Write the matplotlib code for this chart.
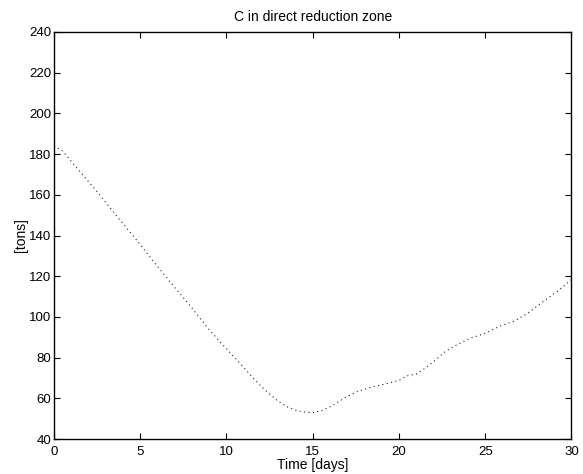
import matplotlib
matplotlib.use("Agg")
import matplotlib.pyplot as plt
from matplotlib.ticker import MultipleLocator

days = [0.0, 0.5, 1.35, 2.5, 3.67, 4.8, 5.86, 6.97, 7.94, 8.9, 9.62, 10.78,
        11.65, 12.23, 12.9, 13.5, 14.1, 14.6, 15.0, 15.56, 16.1, 16.87,
        17.6, 18.5, 19.4, 20.0, 20.45, 21.0, 21.5, 22.0, 22.67, 23.34,
        24.12, 25.0, 25.86, 26.73, 27.5, 28.27, 29.14, 30.0]
carbon = [184.0, 181.5, 173.0, 161.5, 149.2, 137.7, 126.3, 114.8, 105.0, 94.7,
          87.8, 77.2, 69.0, 64.1, 59.2, 55.9, 53.9, 53.2, 52.9, 54.1, 56.2,
          60.3, 63.4, 65.7, 67.4, 68.8, 71.0, 71.9, 74.7, 78.0, 82.9, 86.2,
          89.5, 91.9, 95.5, 98.1, 102.0, 107.0, 112.3, 118.3]

plt.rcParams['font.family'] = ['Liberation Sans', 'DejaVu Sans']
plt.rcParams['font.size'] = 10

fig = plt.figure(figsize=(5.83, 4.74), dpi=100)
ax = fig.add_axes([0.0926, 0.0738, 0.8876, 0.8587])
ax.plot(days, carbon, linestyle=(0, (1, 3)), color='#222222', linewidth=0.8)
ax.set_xlim(0, 30)
ax.set_ylim(40, 240)
ax.xaxis.set_major_locator(MultipleLocator(5))
ax.yaxis.set_major_locator(MultipleLocator(20))
ax.tick_params(direction='in', top=True, right=True, length=4, width=0.8, labelsize=9.5, pad=2)
ax.tick_params(axis='x', pad=5)
for s in ax.spines.values():
    s.set_linewidth(1.0)
ax.set_title('C in direct reduction zone', fontsize=10, pad=8)
ax.set_xlabel('Time [days]', fontsize=10, labelpad=0)
ax.set_ylabel('[tons]', fontsize=10, labelpad=1)
fig.savefig('out.png', dpi=100)
